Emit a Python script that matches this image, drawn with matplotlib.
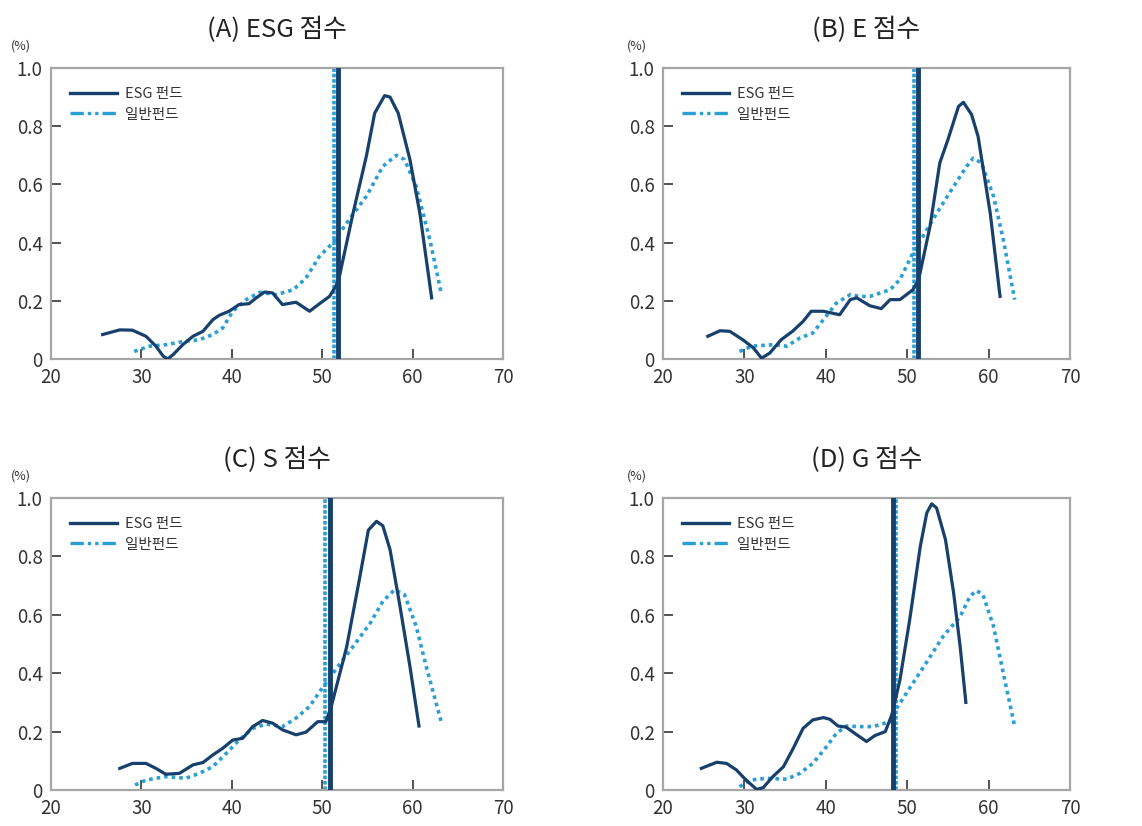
import numpy as np
import matplotlib.pyplot as plt
from matplotlib.lines import Line2D

plt.rcParams['font.family'] = ['Noto Sans CJK KR', 'DejaVu Sans']

titles = ['(A) ESG 점수', '(B) E 점수', '(C) S 점수', '(D) G 점수']

# ESG fund density curves
esg_x = [
    [25.7, 27.6, 29.0, 30.5, 31.6, 32.4, 32.9, 33.5, 34.6, 35.7, 36.8, 37.9, 38.6, 39.7, 40.8, 41.9,
     42.7, 43.6, 44.5, 45.6, 47.1, 48.6, 49.7, 50.8, 51.5, 51.9, 53.4, 54.9, 55.8, 56.9, 57.5, 58.4,
     59.7, 60.8, 62.1],
    [25.5, 27.0, 28.2, 29.8, 31.1, 32.1, 33.1, 34.5, 35.9, 37.2, 38.2, 39.7, 41.7, 43.0, 43.8, 45.4,
     46.8, 47.9, 49.1, 50.7, 51.4, 52.8, 54.0, 55.0, 56.3, 56.9, 57.9, 58.7, 60.2, 61.4],
    [27.6, 29.0, 30.5, 31.6, 32.7, 34.2, 35.7, 36.8, 37.9, 39.0, 40.1, 41.2, 42.3, 43.4, 44.5, 45.6,
     47.1, 48.2, 49.5, 50.4, 51.0, 52.7, 54.1, 55.1, 56.0, 56.7, 57.5, 58.6, 59.7, 60.7],
    [24.7, 26.6, 27.8, 29.0, 30.2, 31.5, 32.3, 33.5, 34.8, 36.0, 37.2, 38.4, 39.7, 40.5, 41.5, 42.5,
     43.8, 45.0, 46.0, 47.3, 48.1, 49.1, 50.3, 51.6, 52.4, 53.0, 53.6, 54.7, 55.7, 56.5, 57.2],
]
esg_y = [
    [0.084, 0.100, 0.099, 0.078, 0.044, 0.010, 0.000, 0.015, 0.050, 0.078, 0.095, 0.135, 0.150, 0.164,
     0.187, 0.190, 0.210, 0.230, 0.227, 0.187, 0.195, 0.164, 0.190, 0.215, 0.250, 0.284, 0.500, 0.700,
     0.845, 0.905, 0.900, 0.845, 0.685, 0.500, 0.210],
    [0.078, 0.097, 0.095, 0.066, 0.038, 0.003, 0.020, 0.066, 0.095, 0.129, 0.164, 0.164, 0.152, 0.204,
     0.210, 0.183, 0.173, 0.204, 0.204, 0.238, 0.273, 0.456, 0.674, 0.754, 0.868, 0.882, 0.840, 0.765,
     0.500, 0.215],
    [0.074, 0.091, 0.091, 0.074, 0.054, 0.057, 0.086, 0.094, 0.120, 0.143, 0.171, 0.177, 0.217, 0.238,
     0.229, 0.206, 0.189, 0.198, 0.234, 0.234, 0.286, 0.490, 0.720, 0.890, 0.920, 0.905, 0.823, 0.629,
     0.423, 0.219],
    [0.074, 0.095, 0.091, 0.069, 0.034, 0.002, 0.008, 0.046, 0.080, 0.143, 0.211, 0.240, 0.248, 0.242,
     0.219, 0.215, 0.189, 0.166, 0.186, 0.200, 0.257, 0.377, 0.583, 0.834, 0.949, 0.980, 0.966, 0.857,
     0.674, 0.491, 0.300],
]

# general fund density curves
gen_x = [
    [29.2, 30.9, 32.7, 34.6, 36.4, 37.9, 39.0, 40.1, 41.6, 43.1, 44.9, 46.8, 48.2, 49.7, 51.2, 53.0,
     54.9, 56.7, 58.2, 59.1, 60.4, 61.9, 63.2],
    [29.4, 30.9, 33.5, 35.2, 36.8, 38.4, 39.7, 41.3, 43.0, 44.2, 45.4, 47.9, 49.1, 50.7, 51.9, 53.6,
     55.7, 57.3, 58.1, 59.1, 60.6, 61.8, 63.2],
    [29.3, 30.5, 32.7, 34.9, 36.4, 37.9, 39.4, 40.8, 42.3, 43.8, 45.6, 47.1, 48.6, 50.1, 51.6, 53.4,
     55.3, 56.7, 58.0, 59.1, 60.4, 61.5, 63.2],
    [29.4, 30.7, 32.7, 35.2, 36.8, 38.4, 40.1, 41.3, 42.5, 44.2, 45.8, 47.9, 48.7, 50.7, 52.3, 54.4,
     56.5, 57.7, 58.5, 59.3, 60.6, 61.8, 63.2],
]
gen_y = [
    [0.026, 0.044, 0.049, 0.060, 0.066, 0.084, 0.107, 0.164, 0.204, 0.229, 0.221, 0.238, 0.278, 0.353,
     0.400, 0.480, 0.560, 0.662, 0.700, 0.685, 0.593, 0.410, 0.221],
    [0.026, 0.044, 0.049, 0.044, 0.072, 0.089, 0.135, 0.192, 0.221, 0.215, 0.215, 0.238, 0.273, 0.364,
     0.420, 0.500, 0.593, 0.662, 0.690, 0.674, 0.559, 0.410, 0.204],
    [0.017, 0.034, 0.046, 0.040, 0.057, 0.080, 0.126, 0.171, 0.211, 0.226, 0.217, 0.246, 0.286, 0.354,
     0.417, 0.491, 0.571, 0.646, 0.686, 0.669, 0.560, 0.423, 0.229],
    [0.011, 0.034, 0.040, 0.037, 0.057, 0.091, 0.149, 0.194, 0.219, 0.217, 0.217, 0.234, 0.280, 0.366,
     0.434, 0.526, 0.594, 0.663, 0.683, 0.669, 0.560, 0.400, 0.217],
]

# mean lines
esg_mean = [51.7, 51.3, 50.9, 48.2]
gen_mean = [51.3, 50.8, 50.3, 48.6]

navy = '#17406d'
light = '#2a9fd3'
frame = '#a6a6a6'
txt = '#333333'

fig = plt.figure(figsize=(11.42, 8.26), dpi=100)
boxes = [
    [0.0447, 0.5654, 0.3958, 0.3523],
    [0.5806, 0.5654, 0.3564, 0.3523],
    [0.0447, 0.0436, 0.3958, 0.3535],
    [0.5806, 0.0436, 0.3564, 0.3535],
]

for i in range(4):
    ax = fig.add_axes(boxes[i])
    ax.plot(esg_x[i], esg_y[i], color=navy, lw=2.3, solid_joinstyle='round', zorder=3)
    ax.plot(gen_x[i], gen_y[i], color=light, lw=2.6, linestyle=(0, (1, 1.1)), zorder=2)
    ax.axvline(gen_mean[i], color=light, lw=2.6, linestyle=(0, (1, 0.5)), zorder=2)
    ax.axvline(esg_mean[i], color=navy, lw=3.5, zorder=3)

    ax.set_xlim(20, 70)
    ax.set_ylim(0, 1.0)
    ax.set_xticks([20, 30, 40, 50, 60, 70])
    ax.set_yticks([0, 0.2, 0.4, 0.6, 0.8, 1.0])
    ax.set_yticklabels(['0', '0.2', '0.4', '0.6', '0.8', '1.0'])
    ax.tick_params(direction='in', length=7, width=1.3, color='#444444',
                   labelsize=13.5, labelcolor=txt, pad=6)
    for s in ax.spines.values():
        s.set_color(frame)
        s.set_linewidth(1.6)

    ax.set_title(titles[i], fontsize=18.5, color='#222222', pad=22)
    ax.text(-0.088, 1.075, '(%)', transform=ax.transAxes, fontsize=9, color=txt,
            ha='left', va='center')

    handles = [Line2D([], [], color=navy, lw=2.4),
               Line2D([], [], color=light, lw=2.4, linestyle=(0, (4, 1.2, 1, 1.2, 1, 1.2)))]
    ax.legend(handles, ['ESG 펀드', '일반펀드'], loc='upper left', frameon=False,
              fontsize=10.5, handlelength=3.2, handletextpad=0.6, labelspacing=0.45,
              borderaxespad=0.9, labelcolor=txt)

fig.savefig('out.png', dpi=100)
